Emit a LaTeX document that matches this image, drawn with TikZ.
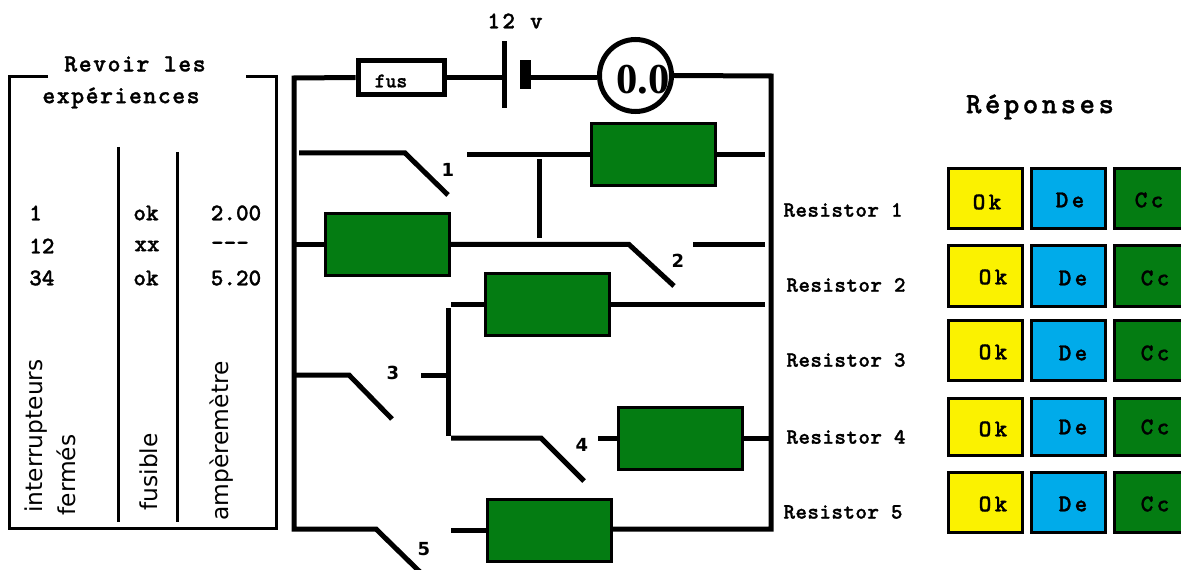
\documentclass[tikz,border=0pt]{standalone}
\usepackage{fontspec}
\setmainfont{Liberation Serif}
\setsansfont{DejaVu Sans}
\setmonofont{lmmonolt10-bold.otf}[BoldFont=lmmonolt10-bold.otf,BoldFeatures={FakeBold=1.2}]
\definecolor{resgreen}{RGB}{4,124,18}
\definecolor{okyellow}{RGB}{251,242,0}
\definecolor{deblue}{RGB}{0,171,234}
\tikzset{
  wire/.style={line width=3.75pt},
  thinwire/.style={line width=2.25pt},
  resistor/.style={draw,line width=2.25pt,fill=resgreen,minimum width=93pt,minimum height=46.5pt,inner sep=0pt},
  plate/.style={fill=black,inner sep=0pt},
  answerbox/.style={draw,line width=2.25pt,minimum width=56pt,minimum height=45pt,inner sep=0pt},
  answer/.style={font=\ttfamily\bfseries\fontsize{18}{18}\selectfont\addfontfeature{LetterSpace=14},inner sep=0pt},
  tabletext/.style={font=\ttfamily\bfseries\fontsize{18}{18}\selectfont,inner sep=0pt},
  title/.style={font=\ttfamily\bfseries\fontsize{18.5}{18.5}\selectfont\addfontfeature{LetterSpace=6},inner sep=0pt},
  reslabel/.style={font=\ttfamily\bfseries\fontsize{16.5}{16.5}\selectfont\addfontfeature{LetterSpace=2},inner sep=0pt},
  swlabel/.style={font=\sffamily\bfseries\fontsize{13.5}{13.5}\selectfont,inner sep=0pt},
  vertical/.style={font=\sffamily\fontsize{17.5}{17.5}\selectfont,rotate=90,inner sep=0pt}
}
\begin{document}
\begin{tikzpicture}[x=0.75pt,y=-0.75pt]
\clip (0,0) rectangle (1181,570);
\fill[white] (0,0) rectangle (1181,570);
\node(titre-a)[title] at (135,64){Revoir les};
\node(titre-b)[title] at (121,98){expériences};
\coordinate(panel-a) at (48,77);
\coordinate(panel-b) at (9,77);
\coordinate(panel-c) at (9,528);
\coordinate(panel-d) at (276,528);
\coordinate(panel-e) at (276,77);
\coordinate(panel-f) at (246,77);
\coordinate(col-a-top) at (118,147);
\coordinate(col-a-bot) at (118,522);
\coordinate(col-b-top) at (177,152);
\coordinate(col-b-bot) at (177,522);
\draw[thinwire] (panel-a) -- (panel-b) -- (panel-c) -- (panel-d) -- (panel-e) -- (panel-f);
\draw[thinwire] (col-a-top) -- (col-a-bot);
\draw[thinwire] (col-b-top) -- (col-b-bot);
\node(ligne-1)[tabletext,anchor=west] at (29,213){1};
\node(ligne-2)[tabletext,anchor=west] at (29,246){12};
\node(ligne-3)[tabletext,anchor=west] at (29,278){34};
\node(fus-1)[tabletext] at (146,213){ok};
\node(fus-2)[tabletext] at (147,246){xx};
\node(fus-3)[tabletext] at (146,278){ok};
\node(amp-1)[tabletext] at (236,213){2.00};
\node(amp-2)[tabletext] at (230,246){---};
\node(amp-3)[tabletext] at (236,278){5.20};
\node(col-inter)[vertical] at (36,436){interrupteurs};
\node(col-ferm)[vertical] at (66,475){fermés};
\node(col-fus)[vertical] at (149,472){fusible};
\node(col-amp)[vertical] at (222,441){ampèremètre};
\node(volt)[title,font=\ttfamily\bfseries\fontsize{18}{18}\selectfont\addfontfeature{LetterSpace=10}] at (515,21){12 v};
\node(fus)[draw,line width=3.75pt,minimum width=65pt,minimum height=26pt,inner sep=0pt] at (401.5,77.5){};
\node(fus-text)[tabletext,font=\ttfamily\bfseries\fontsize{15.5}{15.5}\selectfont] at (391,81){fus};
\node(bat-a)[plate,minimum width=3.75pt,minimum height=50pt] at (504.5,74.5){};
\node(bat-b)[plate,minimum width=8pt,minimum height=22pt] at (525.5,74.5){};
\node(amm)[circle,draw,line width=3.75pt,minimum size=54pt,inner sep=0pt] at (635.5,75.5){};
\node(amm-text)[font=\rmfamily\bfseries\fontsize{32}{32}\selectfont,inner sep=0pt] at (643,80){0.0};
\coordinate(top-l) at (294,78);
\coordinate(bot-l) at (294,529);
\coordinate(top-r) at (771,76);
\coordinate(bot-r) at (771,529);
\node(res1)[resistor] at (653.5,155){};
\node(res2)[resistor] at (387,244.5){};
\node(res3)[resistor] at (547,304.5){};
\node(res4)[resistor] at (680,438){};
\node(res5)[resistor] at (549,530){};
\coordinate(sw1-a) at (299,153);
\coordinate(sw1-b) at (405,153);
\coordinate(sw1-c) at (448,195);
\coordinate(sw1-d) at (467,155);
\coordinate(res1-r) at (765,155);
\coordinate(link-a) at (539,159);
\coordinate(link-b) at (539,238);
\coordinate(res2-l) at (296,244.5);
\coordinate(sw2-b) at (629,244.5);
\coordinate(sw2-c) at (674,286);
\coordinate(sw2-d) at (693,244.5);
\coordinate(res2-r) at (765,244.5);
\coordinate(res3-l) at (451,304.5);
\coordinate(res3-r) at (765,304.5);
\coordinate(branch-a) at (448,308);
\coordinate(branch-b) at (448,436);
\coordinate(sw3-a) at (296,375);
\coordinate(sw3-b) at (349,375);
\coordinate(sw3-c) at (392,419);
\coordinate(sw3-d) at (421,375);
\coordinate(sw3-e) at (446,375);
\coordinate(sw4-a) at (451,438);
\coordinate(sw4-b) at (541,438);
\coordinate(sw4-c) at (584,481);
\coordinate(sw4-d) at (598,438);
\coordinate(res4-r) at (769,438);
\coordinate(sw5-b) at (376,529);
\coordinate(sw5-c) at (420,572);
\coordinate(sw5-d) at (451,530);
\draw[wire] (fus.west) -- (top-l) -- (bot-l) -- (sw5-b) -- (sw5-c);
\draw[wire] (fus.east) -- (fus.east -| bat-a.west);
\draw[wire] (bat-b.east |- fus.east) -- (amm.west |- fus.east);
\draw[wire] (amm.east) -- (top-r) -- (bot-r) -- (bot-r -| res5.east);
\draw[wire] (sw1-a) -- (sw1-b) -- (sw1-c);
\draw[wire] (sw1-d) -- (res1.west);
\draw[wire] (res1.east) -- (res1-r);
\draw[wire] (link-a) -- (link-b);
\draw[wire] (res2-l) -- (res2.west);
\draw[wire] (res2.east) -- (sw2-b) -- (sw2-c);
\draw[wire] (sw2-d) -- (res2-r);
\draw[wire] (res3-l) -- (res3.west);
\draw[wire] (res3.east) -- (res3-r);
\draw[wire] (branch-a) -- (branch-b);
\draw[wire] (sw3-a) -- (sw3-b) -- (sw3-c);
\draw[wire] (sw3-d) -- (sw3-e);
\draw[wire] (sw4-a) -- (sw4-b) -- (sw4-c);
\draw[wire] (sw4-d) -- (res4.west);
\draw[wire] (res4.east) -- (res4-r);
\draw[wire] (sw5-d) -- (res5.west);
\node(sw1)[swlabel] at (448,170){1};
\node(sw2)[swlabel] at (678,261){2};
\node(sw3)[swlabel] at (393,373){3};
\node(sw4)[swlabel] at (582,445){4};
\node(sw5)[swlabel] at (424,549){5};
\node(lab1)[reslabel] at (843,210){Resistor 1};
\node(lab2)[reslabel] at (846,285){Resistor 2};
\node(lab3)[reslabel] at (846,360){Resistor 3};
\node(lab4)[reslabel] at (846,437){Resistor 4};
\node(lab5)[reslabel] at (843,512){Resistor 5};
\node(reponses)[title,font=\ttfamily\bfseries\fontsize{22}{22}\selectfont\addfontfeature{LetterSpace=12}] at (1040,107){Réponses};
\node(ok-1)[answerbox,fill=okyellow] at (985.5,198.5){};
\node(de-1)[answerbox,fill=deblue] at (1068.5,198.5){};
\node(cc-1)[answerbox,fill=resgreen] at (1151.5,198.5){};
\node(ok-2)[answerbox,fill=okyellow] at (985.5,276){};
\node(de-2)[answerbox,fill=deblue] at (1068.5,276){};
\node(cc-2)[answerbox,fill=resgreen] at (1151.5,276){};
\node(ok-3)[answerbox,fill=okyellow] at (985.5,350.5){};
\node(de-3)[answerbox,fill=deblue] at (1068.5,350.5){};
\node(cc-3)[answerbox,fill=resgreen] at (1151.5,350.5){};
\node(ok-4)[answerbox,fill=okyellow,minimum height=42.75pt] at (985.5,427){};
\node(de-4)[answerbox,fill=deblue,minimum height=42.75pt] at (1068.5,427){};
\node(cc-4)[answerbox,fill=resgreen,minimum height=42.75pt] at (1151.5,427){};
\node(ok-5)[answerbox,fill=okyellow] at (985.5,502.5){};
\node(de-5)[answerbox,fill=deblue] at (1068.5,502.5){};
\node(cc-5)[answerbox,fill=resgreen] at (1151.5,502.5){};
\node(ok-1-text)[answer] at (987,202){Ok};
\node(de-1-text)[answer] at (1070,200){De};
\node(cc-1-text)[answer] at (1149,200){Cc};
\node(ok-2-text)[answer] at (993,277){Ok};
\node(de-2-text)[answer] at (1073,278){De};
\node(cc-2-text)[answer] at (1155,278){Cc};
\node(ok-3-text)[answer] at (993,352){Ok};
\node(de-3-text)[answer] at (1073,353){De};
\node(cc-3-text)[answer] at (1155,353){Cc};
\node(ok-4-text)[answer] at (993,429){Ok};
\node(de-4-text)[answer] at (1073,427){De};
\node(cc-4-text)[answer] at (1155,427){Cc};
\node(ok-5-text)[answer] at (993,504){Ok};
\node(de-5-text)[answer] at (1073,504){De};
\node(cc-5-text)[answer] at (1155,504){Cc};
\end{tikzpicture}
\end{document}
